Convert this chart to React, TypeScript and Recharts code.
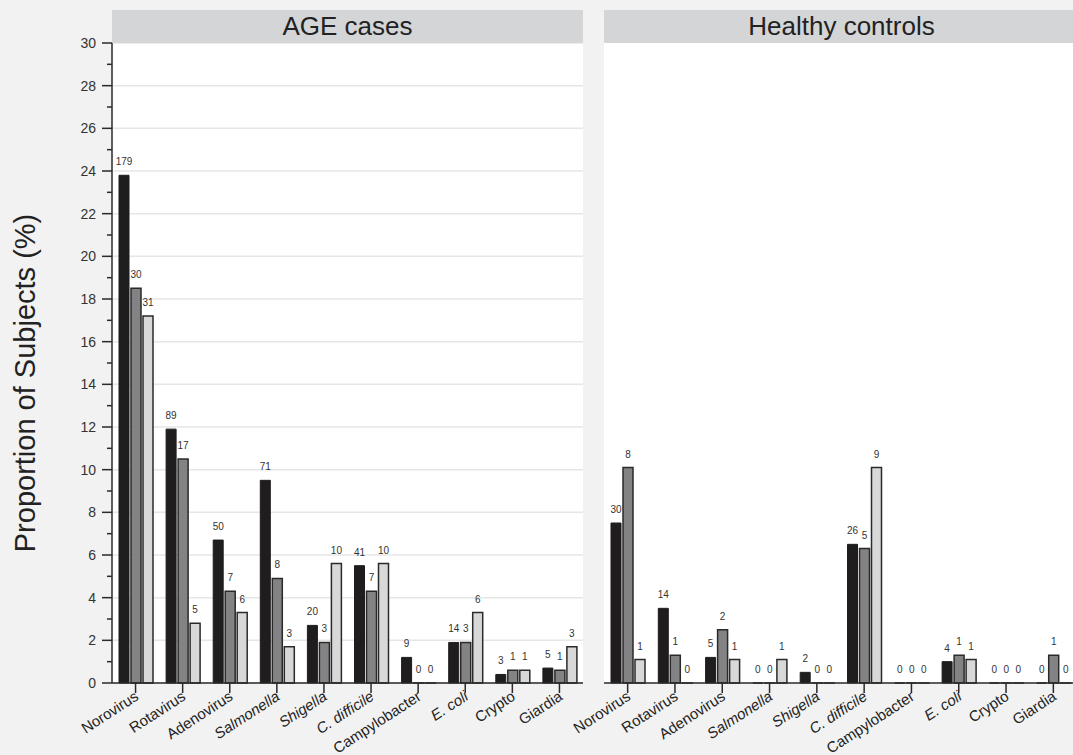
import React from 'react'
import {
  BarChart,
  Bar,
  XAxis,
  YAxis,
  CartesianGrid,
  LabelList,
  Label
} from 'recharts'

const categories = [
  'Norovirus',
  'Rotavirus',
  'Adenovirus',
  'Salmonella',
  'Shigella',
  'C. difficile',
  'Campylobacter',
  'E. coli',
  'Crypto',
  'Giardia'
]
const italicNames = ['Salmonella', 'Shigella', 'C. difficile', 'E. coli']

// AGE cases: proportion (%) and subject counts per group
const casesA = [23.8, 11.9, 6.7, 9.5, 2.7, 5.5, 1.2, 1.9, 0.4, 0.7]
const casesB = [18.5, 10.5, 4.3, 4.9, 1.9, 4.3, 0, 1.9, 0.6, 0.6]
const casesC = [17.2, 2.8, 3.3, 1.7, 5.6, 5.6, 0, 3.3, 0.6, 1.7]
const casesCountA = [179, 89, 50, 71, 20, 41, 9, 14, 3, 5]
const casesCountB = [30, 17, 7, 8, 3, 7, 0, 3, 1, 1]
const casesCountC = [31, 5, 6, 3, 10, 10, 0, 6, 1, 3]

// Healthy controls
const controlsA = [7.5, 3.5, 1.2, 0, 0.5, 6.5, 0, 1.0, 0, 0]
const controlsB = [10.1, 1.3, 2.5, 0, 0, 6.3, 0, 1.3, 0, 1.3]
const controlsC = [1.1, 0, 1.1, 1.1, 0, 10.1, 0, 1.1, 0, 0]
const controlsCountA = [30, 14, 5, 0, 2, 26, 0, 4, 0, 0]
const controlsCountB = [8, 1, 2, 0, 0, 5, 0, 1, 0, 1]
const controlsCountC = [1, 0, 1, 1, 0, 9, 0, 1, 0, 0]

const allTicks = [0, 1, 2, 3, 4, 5, 6, 7, 8, 9, 10, 11, 12, 13, 14, 15, 16, 17, 18, 19, 20, 21, 22, 23, 24, 25, 26, 27, 28, 29, 30]
const majorTicks = [0, 2, 4, 6, 8, 10, 12, 14, 16, 18, 20, 22, 24, 26, 28, 30]

const FONT = '"Liberation Sans", Arial, Helvetica, sans-serif'
const INK = '#2a2a2a'

function buildData(a: number[], b: number[], c: number[], na: number[], nb: number[], nc: number[]) {
  return categories.map((name, i) => ({
    name,
    a: a[i],
    b: b[i],
    c: c[i],
    na: na[i],
    nb: nb[i],
    nc: nc[i]
  }))
}

const casesData = buildData(casesA, casesB, casesC, casesCountA, casesCountB, casesCountC)
const controlsData = buildData(controlsA, controlsB, controlsC, controlsCountA, controlsCountB, controlsCountC)

// zero bars get a hairline height so that recharts still hands them to the label list
const zeroMin = (value: number) => (value === 0 ? 0.01 : 0)

const XTick = (props: any) => {
  const { x, y, payload } = props
  const italic = italicNames.includes(payload.value)
  return (
    <g>
      <line x1={x} y1={y} x2={x} y2={y + 10} stroke={INK} strokeWidth={1.5} />
      <text
        transform={`translate(${x + 4},${y + 16}) rotate(-33)`}
        textAnchor="end"
        fontSize={15}
        fontFamily={FONT}
        fontStyle={italic ? 'italic' : 'normal'}
        fill="#222"
      >
        {payload.value}
      </text>
    </g>
  )
}

const YTick = (props: any) => {
  const { x, y, payload } = props
  const major = payload.value % 2 === 0
  return (
    <g>
      <line x1={x - (major ? 10 : 5)} y1={y} x2={x} y2={y} stroke={INK} strokeWidth={1.5} />
      {major && (
        <text x={x - 16} y={y} dy={5} textAnchor="end" fontSize={14} fontFamily={FONT} fill="#333">
          {payload.value}
        </text>
      )}
    </g>
  )
}

const CountLabel = (props: any) => {
  const { x, y, width, value } = props
  return (
    <text x={x + width / 2} y={y - 10} textAnchor="middle" fontSize={10} fontFamily={FONT} fill="#333">
      {value}
    </text>
  )
}

function Panel({ data, showAxis, width, marginLeft, marginRight }: any) {
  return (
    <BarChart
      width={width}
      height={755}
      data={data}
      margin={{ top: 43, right: marginRight, bottom: 0, left: marginLeft }}
      barSize={10}
      barGap={2}
    >
      <CartesianGrid
        vertical={false}
        horizontalValues={majorTicks}
        stroke="#e6e6e6"
        strokeWidth={1.5}
        fill="#ffffff"
      />
      {showAxis ? (
        <YAxis
          domain={[0, 30]}
          ticks={allTicks}
          interval={0}
          width={112}
          tickSize={0}
          tickMargin={0}
          tickLine={false}
          axisLine={{ stroke: INK, strokeWidth: 1.5 }}
          tick={<YTick />}
        >
          <Label
            content={() => (
              <text
                transform="translate(35,383) rotate(-90)"
                textAnchor="middle"
                fontSize={29}
                fontFamily={FONT}
                fill="#222"
              >
                Proportion of Subjects (%)
              </text>
            )}
          />
        </YAxis>
      ) : (
        <YAxis domain={[0, 30]} ticks={allTicks} width={0} tick={false} tickLine={false} axisLine={false} />
      )}
      <Bar dataKey="a" fill="#1f1d1d" stroke="#1f1d1d" strokeWidth={1} minPointSize={zeroMin} isAnimationActive={false}>
        <LabelList dataKey="na" content={<CountLabel />} />
      </Bar>
      <Bar dataKey="b" fill="#838385" stroke={INK} strokeWidth={1.5} minPointSize={zeroMin} isAnimationActive={false}>
        <LabelList dataKey="nb" content={<CountLabel />} />
      </Bar>
      <Bar dataKey="c" fill="#d8d8d9" stroke={INK} strokeWidth={1.5} minPointSize={zeroMin} isAnimationActive={false}>
        <LabelList dataKey="nc" content={<CountLabel />} />
      </Bar>
      <XAxis
        dataKey="name"
        interval={0}
        height={72}
        tickSize={0}
        tickMargin={0}
        tickLine={false}
        axisLine={{ stroke: INK, strokeWidth: 1.5 }}
        tick={<XTick />}
      />
    </BarChart>
  )
}

const headerStyle: React.CSSProperties = {
  position: 'absolute',
  top: 10,
  height: 33,
  background: '#d4d5d7',
  color: '#222',
  fontFamily: FONT,
  fontSize: 26,
  lineHeight: '33px',
  textAlign: 'center'
}

export default function App() {
  return (
    <div
      style={{
        position: 'absolute',
        left: 0,
        top: 0,
        width: 1073,
        height: 755,
        background: '#f2f2f2',
        overflow: 'hidden'
      }}
    >
      <div style={{ position: 'absolute', left: 0, top: 0 }}>
        <Panel data={casesData} showAxis width={600} marginLeft={0} marginRight={17} />
      </div>
      <div style={{ position: 'absolute', left: 520, top: 0 }}>
        <Panel data={controlsData} showAxis={false} width={564} marginLeft={84} marginRight={7} />
      </div>
      <div style={{ ...headerStyle, left: 112, width: 471 }}>AGE cases</div>
      <div style={{ ...headerStyle, left: 604, width: 475 }}>Healthy controls</div>
    </div>
  )
}
